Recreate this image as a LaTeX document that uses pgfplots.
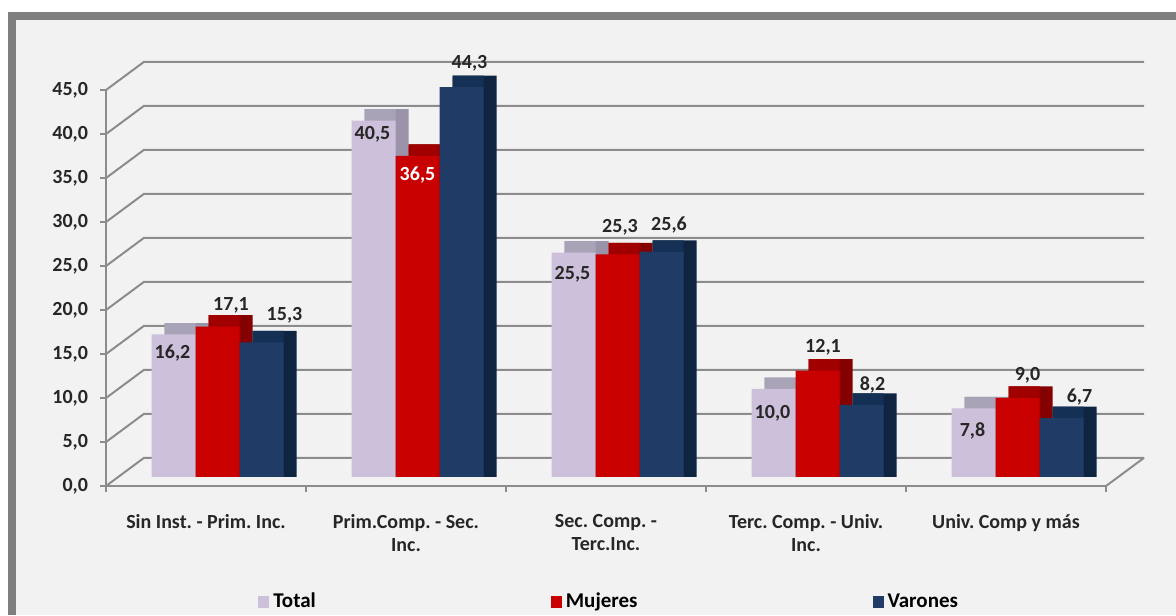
\documentclass[border=0pt]{standalone}
\usepackage{fontspec}
\setmainfont{Carlito}
\usepackage{pgfplots}
\usepackage{pgfplotstable}
\pgfplotsset{compat=1.18}
\pgfplotsset{sqlegend/.style={legend image code/.code={\fill[##1] (0pt,-3pt) rectangle (5.5pt,3pt);}}}
\frenchspacing

\definecolor{bgc}{HTML}{F2F2F2}
\definecolor{framec}{HTML}{7F7F7F}
\definecolor{gridc}{HTML}{8C8C8C}
\definecolor{labc}{HTML}{262626}
\definecolor{totF}{HTML}{CCC0DA}
\definecolor{totT}{HTML}{A9A3B7}
\definecolor{totS}{HTML}{9A93AA}
\definecolor{mujF}{HTML}{C80000}
\definecolor{mujT}{HTML}{A00000}
\definecolor{mujS}{HTML}{850000}
\definecolor{varF}{HTML}{1F3B66}
\definecolor{varT}{HTML}{153055}
\definecolor{varS}{HTML}{0E2440}

% values and label offsets (pt)
\pgfplotstableread{
x total mujeres varones tdx tdy mdx mdy vdx vdy
0 16.2 17.1 15.3 -0.5 -9.5  6.75 10.75 11.5 13.5
1 40.5 36.5 44.3 -0.5 -7.0  0.0  -9.5   4.0  12.0
2 25.5 25.3 25.6 -0.5 -11.0 1.25 13.5   3.75 13.5
3 10.0 12.1 8.2  -0.5 -12.0 2.75 11.75  5.5  10.0
4 7.8  9.0  6.7  -0.5 -11.5 5.0  11.5   9.0  10.5
}\datatable

\begin{document}
\begin{tikzpicture}[x=1pt,y=1pt,font=\fontsize{10}{12}\selectfont\bfseries\frenchspacing]
\fill[white] (0,0) rectangle (588,307.5);
\fill[framec] (4,0) rectangle (588,301.5);
\fill[bgc] (8,0) rectangle (588,297.5);

% ---------- walls, floor, axes ----------
\begin{axis}[
  at={(53pt,64.5pt)}, anchor=south west,
  scale only axis, width=500pt, height=198pt,
  xmin=-0.5, xmax=4.5, ymin=0, ymax=45,
  clip=false,
  axis lines*=left,
  axis line style={draw=gridc, line width=1pt},
  ytick={0,5,...,45},
  tick align=outside,
  major tick length=3pt,
  tick style={draw=gridc, line width=1pt},
  xtick={-0.5,0.5,1.5,2.5,3.5,4.5},
  xticklabels={},
  extra x ticks={0,1,2,3,4},
  extra x tick labels={Sin Inst. - Prim. Inc.,{Prim.Comp. - Sec.\\Inc.},{Sec. Comp. -\\Terc.Inc.},{Terc. Comp. - Univ.\\Inc.},Univ. Comp y más},
  extra x tick style={major tick length=0pt, tick style={draw=none}},
  xticklabel style={align=center, text=labc, yshift=-10.5pt,
    font=\fontsize{10}{11.5}\selectfont\bfseries\frenchspacing},
  yticklabel style={text=labc, xshift=-2.5pt, font=\fontsize{10}{12}\selectfont\bfseries,
    /pgf/number format/.cd, fixed, fixed zerofill, precision=1, use comma},
  /pgf/number format/assume math mode=true,
]
\pgfplotsinvokeforeach{0,5,...,45}{
  \draw[gridc, line width=1pt] (axis cs:-0.5,#1) -- (axis cs:-0.31,{#1+3.2}) -- (axis cs:4.69,{#1+3.2});
}
\draw[gridc, line width=1pt] (axis cs:4.5,0) -- (axis cs:4.69,3.2);
\end{axis}

% ---------- bars ----------
\begin{axis}[
  at={(58.75pt,69pt)}, anchor=south west,
  scale only axis, width=500pt, height=198pt,
  xmin=-0.5, xmax=4.5, ymin=0, ymax=45,
  clip=false, hide axis,
  legend columns=3,
  legend style={at={(0.1405,-0.3156)}, anchor=west, draw=none, fill=none,
    inner sep=0pt, font=\fontsize{10.5}{12}\selectfont\bfseries,
    /tikz/every even column/.append style={column sep=115.5pt}},
]
% side faces
\addplot[ybar, forget plot, bar width=22pt, bar shift=-15.5pt, fill=totS, draw=none] table[x=x, y expr=\thisrow{total}+1.3]{\datatable};
\addplot[ybar, forget plot, bar width=22pt, bar shift=6.5pt, fill=mujS, draw=none] table[x=x, y expr=\thisrow{mujeres}+1.3]{\datatable};
\addplot[ybar, forget plot, bar width=22pt, bar shift=28.5pt, fill=varS, draw=none] table[x=x, y expr=\thisrow{varones}+1.3]{\datatable};
% top faces
\addplot[ybar, forget plot, bar width=15.5pt, bar shift=-18.75pt, fill=totT, draw=none] table[x=x, y expr=\thisrow{total}+1.3]{\datatable};
\addplot[ybar, forget plot, bar width=15.5pt, bar shift=3.25pt, fill=mujT, draw=none] table[x=x, y expr=\thisrow{mujeres}+1.3]{\datatable};
\addplot[ybar, forget plot, bar width=15.5pt, bar shift=25.25pt, fill=varT, draw=none] table[x=x, y expr=\thisrow{varones}+1.3]{\datatable};
% front faces
\addplot[ybar, bar width=22pt, bar shift=-22pt, fill=totF, draw=none, sqlegend] table[x=x, y=total]{\datatable};
\addplot[ybar, bar width=22pt, bar shift=0pt, fill=mujF, draw=none, sqlegend] table[x=x, y=mujeres]{\datatable};
\addplot[ybar, bar width=22pt, bar shift=22pt, fill=varF, draw=none, sqlegend] table[x=x, y=varones]{\datatable};
\legend{Total,Mujeres,Varones}

% data labels
\addplot[draw=none, mark=none, forget plot,
  visualization depends on={\thisrow{tdx} \as \ldx},
  visualization depends on={\thisrow{tdy} \as \ldy},
  nodes near coords={\pgfmathprintnumber[fixed,fixed zerofill,precision=1,use comma,assume math mode=true]{\pgfplotspointmeta}},
  every node near coord/.append style={anchor=center, text=labc, inner sep=0pt,
    xshift=-22pt+\ldx pt, yshift=\ldy pt},
] table[x=x, y=total]{\datatable};
\addplot[draw=none, mark=none, forget plot,
  skip coords between index={1}{2},
  visualization depends on={\thisrow{mdx} \as \ldx},
  visualization depends on={\thisrow{mdy} \as \ldy},
  nodes near coords={\pgfmathprintnumber[fixed,fixed zerofill,precision=1,use comma,assume math mode=true]{\pgfplotspointmeta}},
  every node near coord/.append style={anchor=center, text=labc, inner sep=0pt,
    xshift=\ldx pt, yshift=\ldy pt},
] table[x=x, y=mujeres]{\datatable};
\addplot[draw=none, mark=none, forget plot,
  skip coords between index={0}{1}, skip coords between index={2}{5},
  visualization depends on={\thisrow{mdx} \as \ldx},
  visualization depends on={\thisrow{mdy} \as \ldy},
  nodes near coords={\pgfmathprintnumber[fixed,fixed zerofill,precision=1,use comma,assume math mode=true]{\pgfplotspointmeta}},
  every node near coord/.append style={anchor=center, text=white, inner sep=0pt,
    xshift=\ldx pt, yshift=\ldy pt},
] table[x=x, y=mujeres]{\datatable};
\addplot[draw=none, mark=none, forget plot,
  visualization depends on={\thisrow{vdx} \as \ldx},
  visualization depends on={\thisrow{vdy} \as \ldy},
  nodes near coords={\pgfmathprintnumber[fixed,fixed zerofill,precision=1,use comma,assume math mode=true]{\pgfplotspointmeta}},
  every node near coord/.append style={anchor=center, text=labc, inner sep=0pt,
    xshift=22pt+\ldx pt, yshift=\ldy pt},
] table[x=x, y=varones]{\datatable};
\end{axis}
\end{tikzpicture}
\end{document}
